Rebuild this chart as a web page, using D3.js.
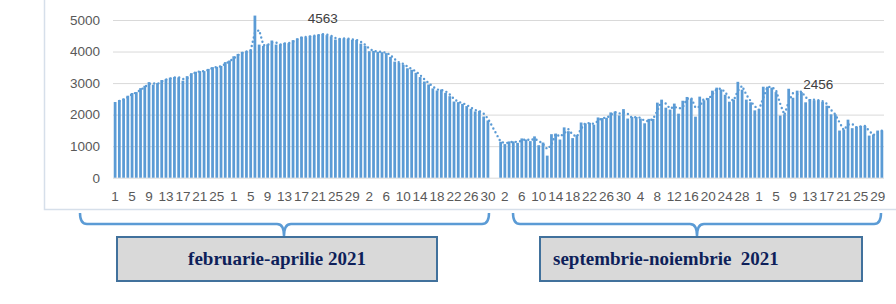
<!DOCTYPE html>
<html>
<head>
<meta charset="utf-8">
<script src="https://cdnjs.cloudflare.com/ajax/libs/d3/7.8.5/d3.min.js"></script>
<style>
  body { margin: 0; background: #fff; }
  svg { display: block; }
</style>
</head>
<body>
<div id="chart"></div>
<script>
// daily values
const feb = [2400, 2460, 2505, 2600, 2685, 2715, 2840, 2915, 3030, 2950, 3000, 3095, 3125, 3170,
  3190, 3180, 3075, 3220, 3315, 3360, 3380, 3380, 3450, 3505, 3515, 3545, 3665, 3715];
const mar = [3850, 3925, 3990, 4010, 4060, 5140, 4220, 4180, 4230, 4350, 4220, 4230, 4275, 4265,
  4360, 4415, 4470, 4450, 4500, 4500, 4540, 4563, 4520, 4480, 4380, 4415, 4415, 4405, 4370, 4370, 4250];
const apr = [4180, 4010, 4020, 3990, 3980, 3950, 3830, 3680, 3640, 3580, 3470, 3420, 3325, 3190, 3050,
  2955, 2830, 2765, 2795, 2690, 2585, 2415, 2395, 2340, 2270, 2185, 2100, 2120, 1940, 1815];
const sep = [1140, 1065, 1150, 1150, 1105, 1245, 1210, 1160, 1310, 1030, 1115, 700, 1380, 1400, 1210,
  1595, 1475, 1255, 1350, 1750, 1720, 1740, 1680, 1910, 1890, 1900, 2070, 2095, 1975, 2175];
const oct = [1875, 1925, 1925, 1875, 1725, 1865, 1865, 2380, 2475, 2220, 2160, 2350, 2030, 2440, 2560,
  2505, 1935, 2570, 2455, 2525, 2760, 2855, 2800, 2630, 2410, 2475, 3040, 2790, 2475, 2390, 2135];
const nov = [2180, 2885, 2885, 2855, 2715, 1970, 2010, 2820, 2535, 2760, 2715, 2390, 2495, 2455, 2456,
  2400, 2285, 2010, 2010, 1495, 1525, 1840, 1570, 1620, 1640, 1640, 1335, 1370, 1495, 1495];

const gapDays = 2;               // empty categories between april and september
const yTicks = [0, 1000, 2000, 3000, 4000, 5000];
const labelled = [["mar", 22], ["nov", 15]];   // bars with a data label
const groupTitles = ["februarie-aprilie 2021", "septembrie-noiembrie  2021"];

const monthData = { feb, mar, apr, sep, oct, nov };
const order = ["feb", "mar", "apr", "gap", "sep", "oct", "nov"];

// flatten to categories
const cats = [], vals = [], keyOf = [];
order.forEach(m => {
  if (m === "gap") {
    for (let i = 0; i < gapDays; i++) { cats.push(""); vals.push(null); keyOf.push(null); }
  } else {
    monthData[m].forEach((v, i) => { cats.push(String(i + 1)); vals.push(v); keyOf.push(m + (i + 1)); });
  }
});
const n = cats.length;

// 2-period moving average trendline
const trend = [];
vals.forEach((v, i) => {
  if (v == null || i === 0) return;
  const p = vals[i - 1];
  trend.push({ i: i, v: p == null ? v : (p + v) / 2 });
});

const W = 896, H = 304;
const svg = d3.select("#chart").append("svg")
  .attr("width", W).attr("height", H);

// chart frame
svg.append("path")
  .attr("d", "M44.5,0 V209.5 H896")
  .attr("fill", "none")
  .attr("stroke", "#d6dfea")
  .attr("stroke-width", 1.5);

const x = d3.scaleBand().domain(d3.range(n)).range([113, 884])
  .paddingInner(0.35).paddingOuter(0.175);
const y = d3.scaleLinear().domain([0, 5000]).range([177.7, 20]);

const font = "'Liberation Sans', Arial, sans-serif";

// y axis + grid
const gy = svg.append("g")
  .attr("transform", "translate(113,0)")
  .call(d3.axisLeft(y).tickValues(yTicks).tickFormat(d3.format("d"))
    .tickSize(-(884 - 113)).tickPadding(13));
gy.select(".domain").remove();
gy.selectAll("line").attr("stroke", "#d9d9d9");
gy.selectAll("text").attr("fill", "#595959")
  .style("font-family", font).style("font-size", "13.5px");

// bars
svg.append("g").selectAll("rect")
  .data(vals.map((v, i) => ({ v, i })).filter(d => d.v != null))
  .join("rect")
  .attr("x", d => x(d.i))
  .attr("width", x.bandwidth())
  .attr("y", d => y(d.v))
  .attr("height", d => y(0) - y(d.v))
  .attr("fill", "#5b9bd5");

// trendline
svg.append("path")
  .datum(trend)
  .attr("fill", "none")
  .attr("stroke", "#5b9bd5")
  .attr("stroke-width", 2.4)
  .attr("stroke-linecap", "round")
  .attr("stroke-dasharray", "0,4.4")
  .attr("d", d3.line().x(d => x(d.i) + x.bandwidth() / 2).y(d => y(d.v)));

// x axis
const tickIdx = d3.range(0, n, 4).filter(i => cats[i] !== "");
const gx = svg.append("g")
  .attr("transform", "translate(0," + y(0) + ")")
  .call(d3.axisBottom(x).tickValues(tickIdx).tickFormat(i => cats[i]).tickSize(0).tickPadding(14));
gx.select(".domain").remove();
gx.selectAll("text").attr("fill", "#595959")
  .style("font-family", font).style("font-size", "13.5px");

// data labels
labelled.forEach(([m, d]) => {
  const i = keyOf.indexOf(m + d);
  svg.append("text")
    .attr("x", x(i) + x.bandwidth() / 2)
    .attr("y", y(vals[i]) - 11)
    .attr("text-anchor", "middle")
    .attr("fill", "#404040")
    .style("font-family", font).style("font-size", "13.5px")
    .text(vals[i]);
});

// braces and boxes under each period
const braces = [
  { x0: 80, x1: 489, mid: 284 },
  { x0: 513, x1: 881, mid: 697 }
];
const boxes = [
  { x0: 117, x1: 437, tx: 277, anchor: "middle" },
  { x0: 540, x1: 862, tx: 553, anchor: "start" }
];
groupTitles.forEach((t, k) => {
  const { x0, x1, mid } = braces[k];
  const top = 213, bar = 224, tip = 236, r = 7;
  svg.append("path")
    .attr("d", `M${x0},${top} Q${x0},${bar} ${x0 + r},${bar} H${mid - r} Q${mid},${bar} ${mid},${tip}` +
      ` Q${mid},${bar} ${mid + r},${bar} H${x1 - r} Q${x1},${bar} ${x1},${top}`)
    .attr("fill", "none")
    .attr("stroke", "#5b9bd5")
    .attr("stroke-width", 2.5);

  const b = boxes[k];
  svg.append("rect")
    .attr("x", b.x0).attr("y", 237)
    .attr("width", b.x1 - b.x0).attr("height", 44)
    .attr("fill", "#d9d9d9")
    .attr("stroke", "#41719c")
    .attr("stroke-width", 2);
  svg.append("text")
    .attr("x", b.tx).attr("y", 265)
    .attr("text-anchor", b.anchor)
    .attr("fill", "#0e1f5a")
    .style("font-family", "'Liberation Serif', 'Times New Roman', serif")
    .style("font-weight", "bold")
    .style("font-size", "19px")
    .style("white-space", "pre")
    .text(t);
});
</script>
</body>
</html>
